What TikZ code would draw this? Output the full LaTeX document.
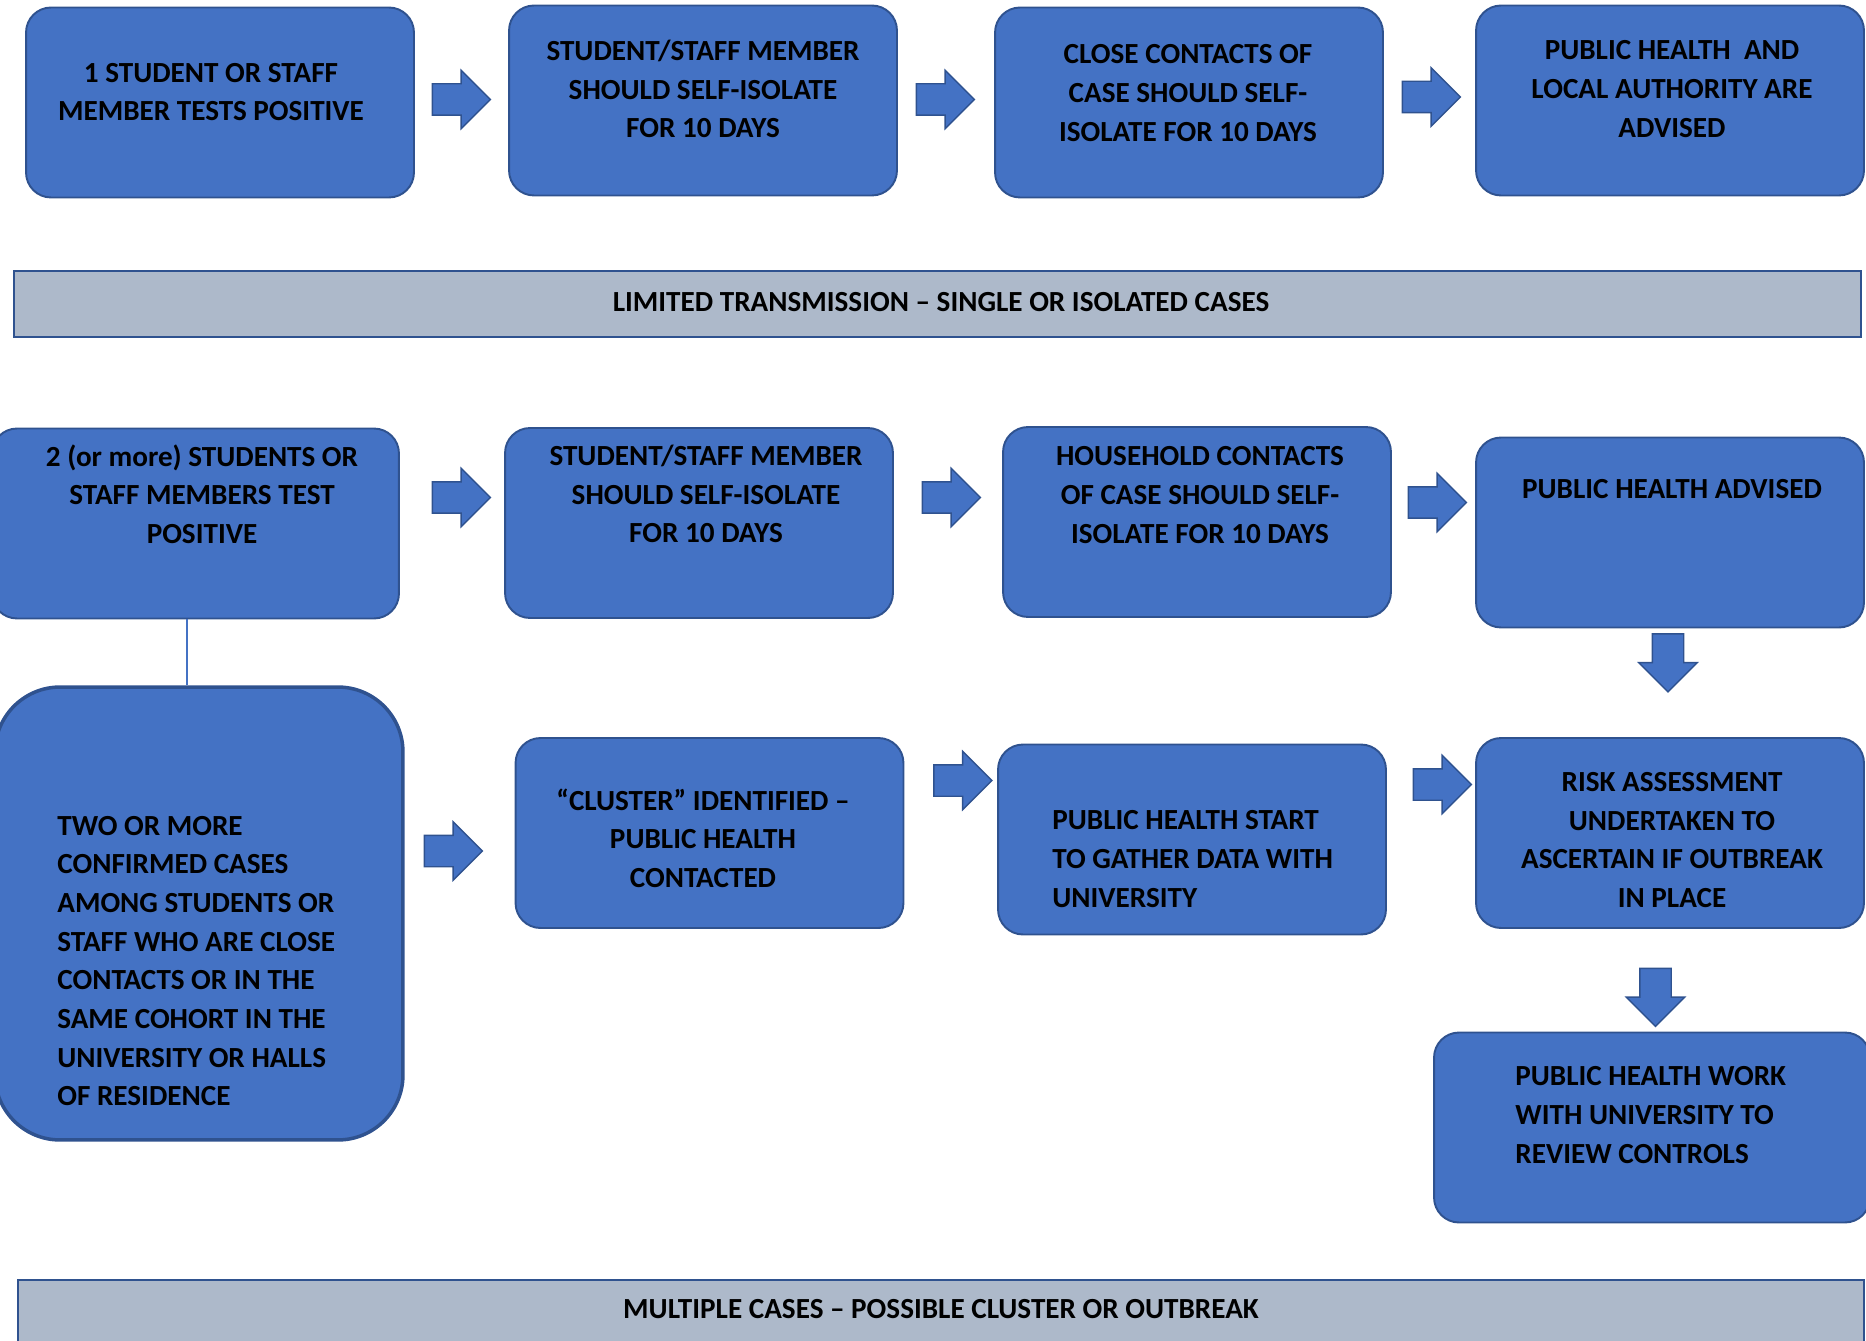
\documentclass[tikz,border=0pt]{standalone}
\usepackage{fontspec}
\setmainfont{Carlito}
\usepackage{tikz}
\usetikzlibrary{shapes.arrows, positioning}

\definecolor{boxblue}{HTML}{4472C4}
\definecolor{boxline}{HTML}{2F528F}
\definecolor{bandgrey}{HTML}{ADB9CA}

\tikzset{
  stepbox/.style = {draw=boxline, fill=boxblue, line width=1.1pt, rounded corners=0.5cm,
                    minimum width=7.76cm, minimum height=3.8cm},
  steptext/.style = {font=\fontsize{16.6pt}{22pt}\selectfont\bfseries, align=center, inner sep=0pt},
  band/.style = {draw=boxline, fill=bandgrey, line width=1.1pt, minimum height=1.32cm},
  blockarrow/.style = {single arrow, draw=boxline, fill=boxblue, line width=0.8pt,
                   inner sep=0.3cm, single arrow head extend=0.27cm, minimum height=1.16cm},
  rarrow/.style = {blockarrow, xshift=-0.14cm},
  darrow/.style = {blockarrow, shape border rotate=270, yshift=0.14cm}
}

\begin{document}
\begin{tikzpicture}[x=0.02cm, y=-0.02cm]
  \useasboundingbox (0,0) rectangle (1866,1341);

  % limited transmission
  \node (a1) [stepbox] at (220,102.5) {};
  \node (a2) [stepbox] at (703,100.5) {};
  \node (a3) [stepbox] at (1189,102.5) {};
  \node (a4) [stepbox] at (1670,100.5) {};
  \node (a1t) [steptext] at (211,92) {1 STUDENT OR STAFF\\MEMBER TESTS POSITIVE};
  \node (a2t) [steptext] at (703,89) {STUDENT/STAFF MEMBER\\SHOULD SELF-ISOLATE\\FOR 10 DAYS};
  \node (a3t) [steptext] at (1188,93) {CLOSE CONTACTS OF\\CASE SHOULD SELF-\\ISOLATE FOR 10 DAYS};
  \node (a4t) [steptext] at (1672,89) {PUBLIC HEALTH~~AND\\LOCAL AUTHORITY ARE\\ADVISED};
  \node (ar1) [rarrow] at (460.5,99.5) {};
  \node (ar2) [rarrow] at (944.5,99.5) {};
  \node (ar3) [rarrow] at (1430.5,97) {};

  \node (band1) [band, minimum width=36.94cm] at (937.5,304) {};
  \node (band1t) [steptext] at (941,302) {LIMITED TRANSMISSION – SINGLE OR ISOLATED CASES};

  % multiple cases
  \node (b1) [stepbox, minimum width=8.14cm] at (195.5,523.5) {};
  \node (b2) [stepbox] at (699,523) {};
  \node (b3) [stepbox] at (1197,522) {};
  \node (b4) [stepbox] at (1670,532.5) {};
  \node (b1t) [steptext] at (202,494) {2 (or more) STUDENTS OR\\STAFF MEMBERS TEST\\POSITIVE};
  \node (b2t) [steptext] at (706,494) {STUDENT/STAFF MEMBER\\SHOULD SELF-ISOLATE\\FOR 10 DAYS};
  \node (b3t) [steptext] at (1200,495) {HOUSEHOLD CONTACTS\\OF CASE SHOULD SELF-\\ISOLATE FOR 10 DAYS};
  \node (b4t) [steptext] at (1672,489) {PUBLIC HEALTH ADVISED};
  \node (br1) [rarrow] at (460.5,497.5) {};
  \node (br2) [rarrow] at (950.5,497.5) {};
  \node (br3) [rarrow] at (1436.5,502.5) {};
  \node (bd1) [darrow] at (1668,662) {};

  \node (c1) [stepbox, line width=2pt, rounded corners=1.3cm, minimum width=8.16cm, minimum height=9.06cm] at (199,913.5) {};
  \node (c2) [stepbox] at (709.5,833) {};
  \node (c3) [stepbox] at (1192,839.5) {};
  \node (c4) [stepbox] at (1670,833) {};
  \node (c5) [stepbox, minimum width=8.72cm] at (1652,1127.5) {};
  \node (c1t) [steptext, align=left, anchor=west] at (57,961) {TWO OR MORE\\CONFIRMED CASES\\AMONG STUDENTS OR\\STAFF WHO ARE CLOSE\\CONTACTS OR IN THE\\SAME COHORT IN THE\\UNIVERSITY OR HALLS\\OF RESIDENCE};
  \node (c2t) [steptext] at (703,838) {“CLUSTER” IDENTIFIED –\\PUBLIC HEALTH\\CONTACTED};
  \node (c3t) [steptext, align=left, anchor=west] at (1052,859) {PUBLIC HEALTH START\\TO GATHER DATA WITH\\UNIVERSITY};
  \node (c4t) [steptext] at (1672,840) {RISK ASSESSMENT\\UNDERTAKEN TO\\ASCERTAIN IF OUTBREAK\\IN PLACE};
  \node (c5t) [steptext, align=left, anchor=west] at (1515,1115) {PUBLIC HEALTH WORK\\WITH UNIVERSITY TO\\REVIEW CONTROLS};
  \node (cr1) [rarrow] at (452.5,851) {};
  \node (cr2) [rarrow] at (962,780.5) {};
  \node (cr3) [rarrow] at (1441.5,784.5) {};
  \node (cd1) [darrow] at (1655.5,996.5) {};

  \coordinate (link) at (187,0);
  \draw [boxblue, line width=0.6pt] (b1.south -| link) -- (c1.north -| link);

  \node (band2) [band, minimum width=36.92cm, minimum height=1.8cm] at (941,1325) {};
  \node (band2t) [steptext] at (941,1309) {MULTIPLE CASES – POSSIBLE CLUSTER OR OUTBREAK};
\end{tikzpicture}
\end{document}
